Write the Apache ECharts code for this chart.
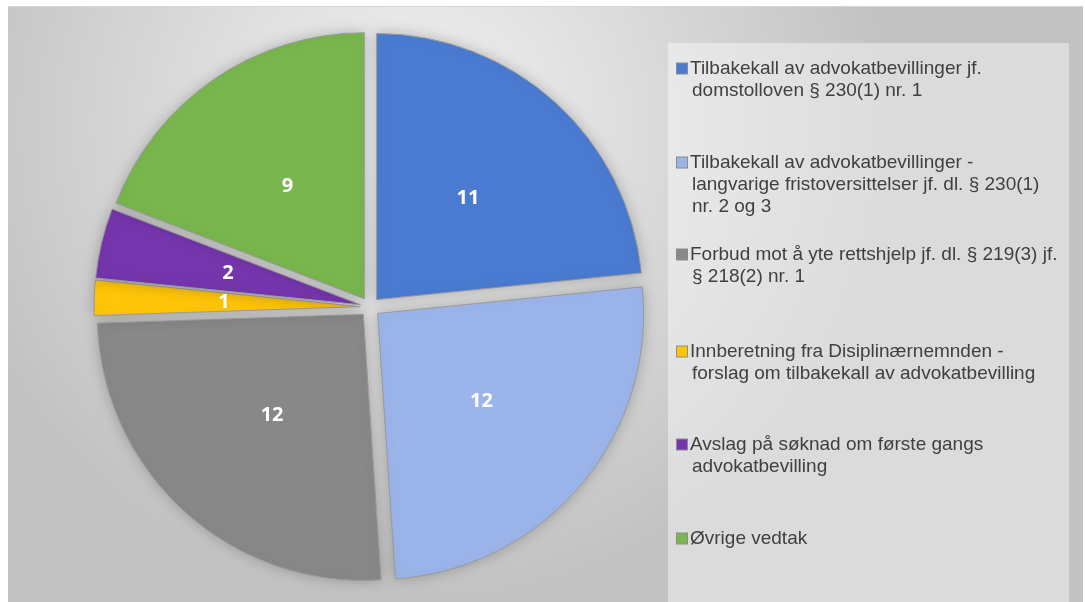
<!DOCTYPE html>
<html>
<head>
<meta charset="utf-8">
<script src="https://cdn.jsdelivr.net/npm/echarts@6/dist/echarts.min.js"></script>
<style>
html,body{margin:0;padding:0;background:#ffffff;}
#chart{width:1085px;height:602px;}
</style>
</head>
<body>
<div id="chart"></div>
<script>
// ---- Data ----
const legendLines = [
  ['Tilbakekall av advokatbevillinger jf.', 'domstolloven § 230(1) nr. 1'],
  ['Tilbakekall av advokatbevillinger -', 'langvarige fristoversittelser jf. dl. § 230(1)', 'nr. 2 og 3'],
  ['Forbud mot å yte rettshjelp jf. dl. § 219(3) jf.', '§ 218(2) nr. 1'],
  ['Innberetning fra Disiplinærnemnden -', 'forslag om tilbakekall av advokatbevilling'],
  ['Avslag på søknad om første gangs', 'advokatbevilling'],
  ['Øvrige vedtak']
];
const categories = legendLines.map(l => l.join(' '));
const values = [11, 12, 12, 1, 2, 9];
const colors = ['#4a7bd1', '#9bb5ea', '#888888', '#ffc608', '#7535ad', '#79b64d'];

// ---- Chart ----
const chart = echarts.init(document.getElementById('chart'), null, {renderer: 'canvas'});

const legendTops = [59, 153, 245, 342, 435, 529];
const legends = categories.map((name, i) => ({
  data: [name],
  orient: 'vertical',
  left: 671,
  top: legendTops[i],
  padding: 0,
  itemWidth: 0,
  itemHeight: 0,
  icon: 'rect',
  selectedMode: false,
  formatter: function (n) {
    const lines = legendLines[i];
    return lines.map((ln, k) => (k === 0 ? '{s|}{g|}' : '{p|}') + '{t|' + ln + '}').join('\n');
  },
  textStyle: {
    rich: {
      s: {width: 10, height: 10, backgroundColor: colors[i], borderColor: '#8c8c8c', borderWidth: 1, verticalAlign: 'middle'},
      g: {width: 3, height: 9},
      p: {width: 15, height: 9},
      t: {fontFamily: 'Liberation Sans, Arial, sans-serif', fontSize: 19, color: '#404040', lineHeight: 22, verticalAlign: 'middle'}
    }
  }
}));

chart.setOption({
  animation: false,
  graphic: [
    {
      type: 'rect', z: -10, silent: true,
      shape: {x: 8, y: 7, width: 1075, height: 595},
      style: {
        fill: {
          type: 'radial', x: 0.38, y: 0.2, r: 0.8,
          colorStops: [{offset: 0, color: '#f3f3f3'}, {offset: 1, color: '#c2c2c2'}]
        }
      }
    },
    {
      type: 'line', z: -9, silent: true,
      shape: {x1: 8, y1: 6.5, x2: 1083, y2: 6.5},
      style: {stroke: '#d6d6d6', lineWidth: 1}
    },
    {
      type: 'rect', z: -8, silent: true,
      shape: {x: 668, y: 43, width: 401, height: 560},
      style: {fill: 'rgba(255,255,255,0.42)'}
    }
  ],
  legend: legends,
  series: [{
    type: 'pie',
    center: [370, 307],
    radius: [0, 266],
    startAngle: 90,
    clockwise: true,
    selectedMode: 'multiple',
    selectedOffset: 10,
    avoidLabelOverlap: false,
    emphasis: {disabled: true},
    itemStyle: {
      borderColor: '#9a9a9a',
      borderWidth: 1,
      shadowBlur: 14,
      shadowColor: 'rgba(0,0,0,0.22)'
    },
    label: {
      show: true,
      position: 'inside',
      color: '#ffffff',
      fontFamily: 'Open Sans, sans-serif',
      fontWeight: 'bold',
      fontSize: 20,
      formatter: '{c}'
    },
    labelLine: {show: false},
    data: categories.map((name, i) => ({
      name: name,
      value: values[i],
      selected: true,
      itemStyle: {color: colors[i]}
    }))
  }]
});
</script>
</body>
</html>
